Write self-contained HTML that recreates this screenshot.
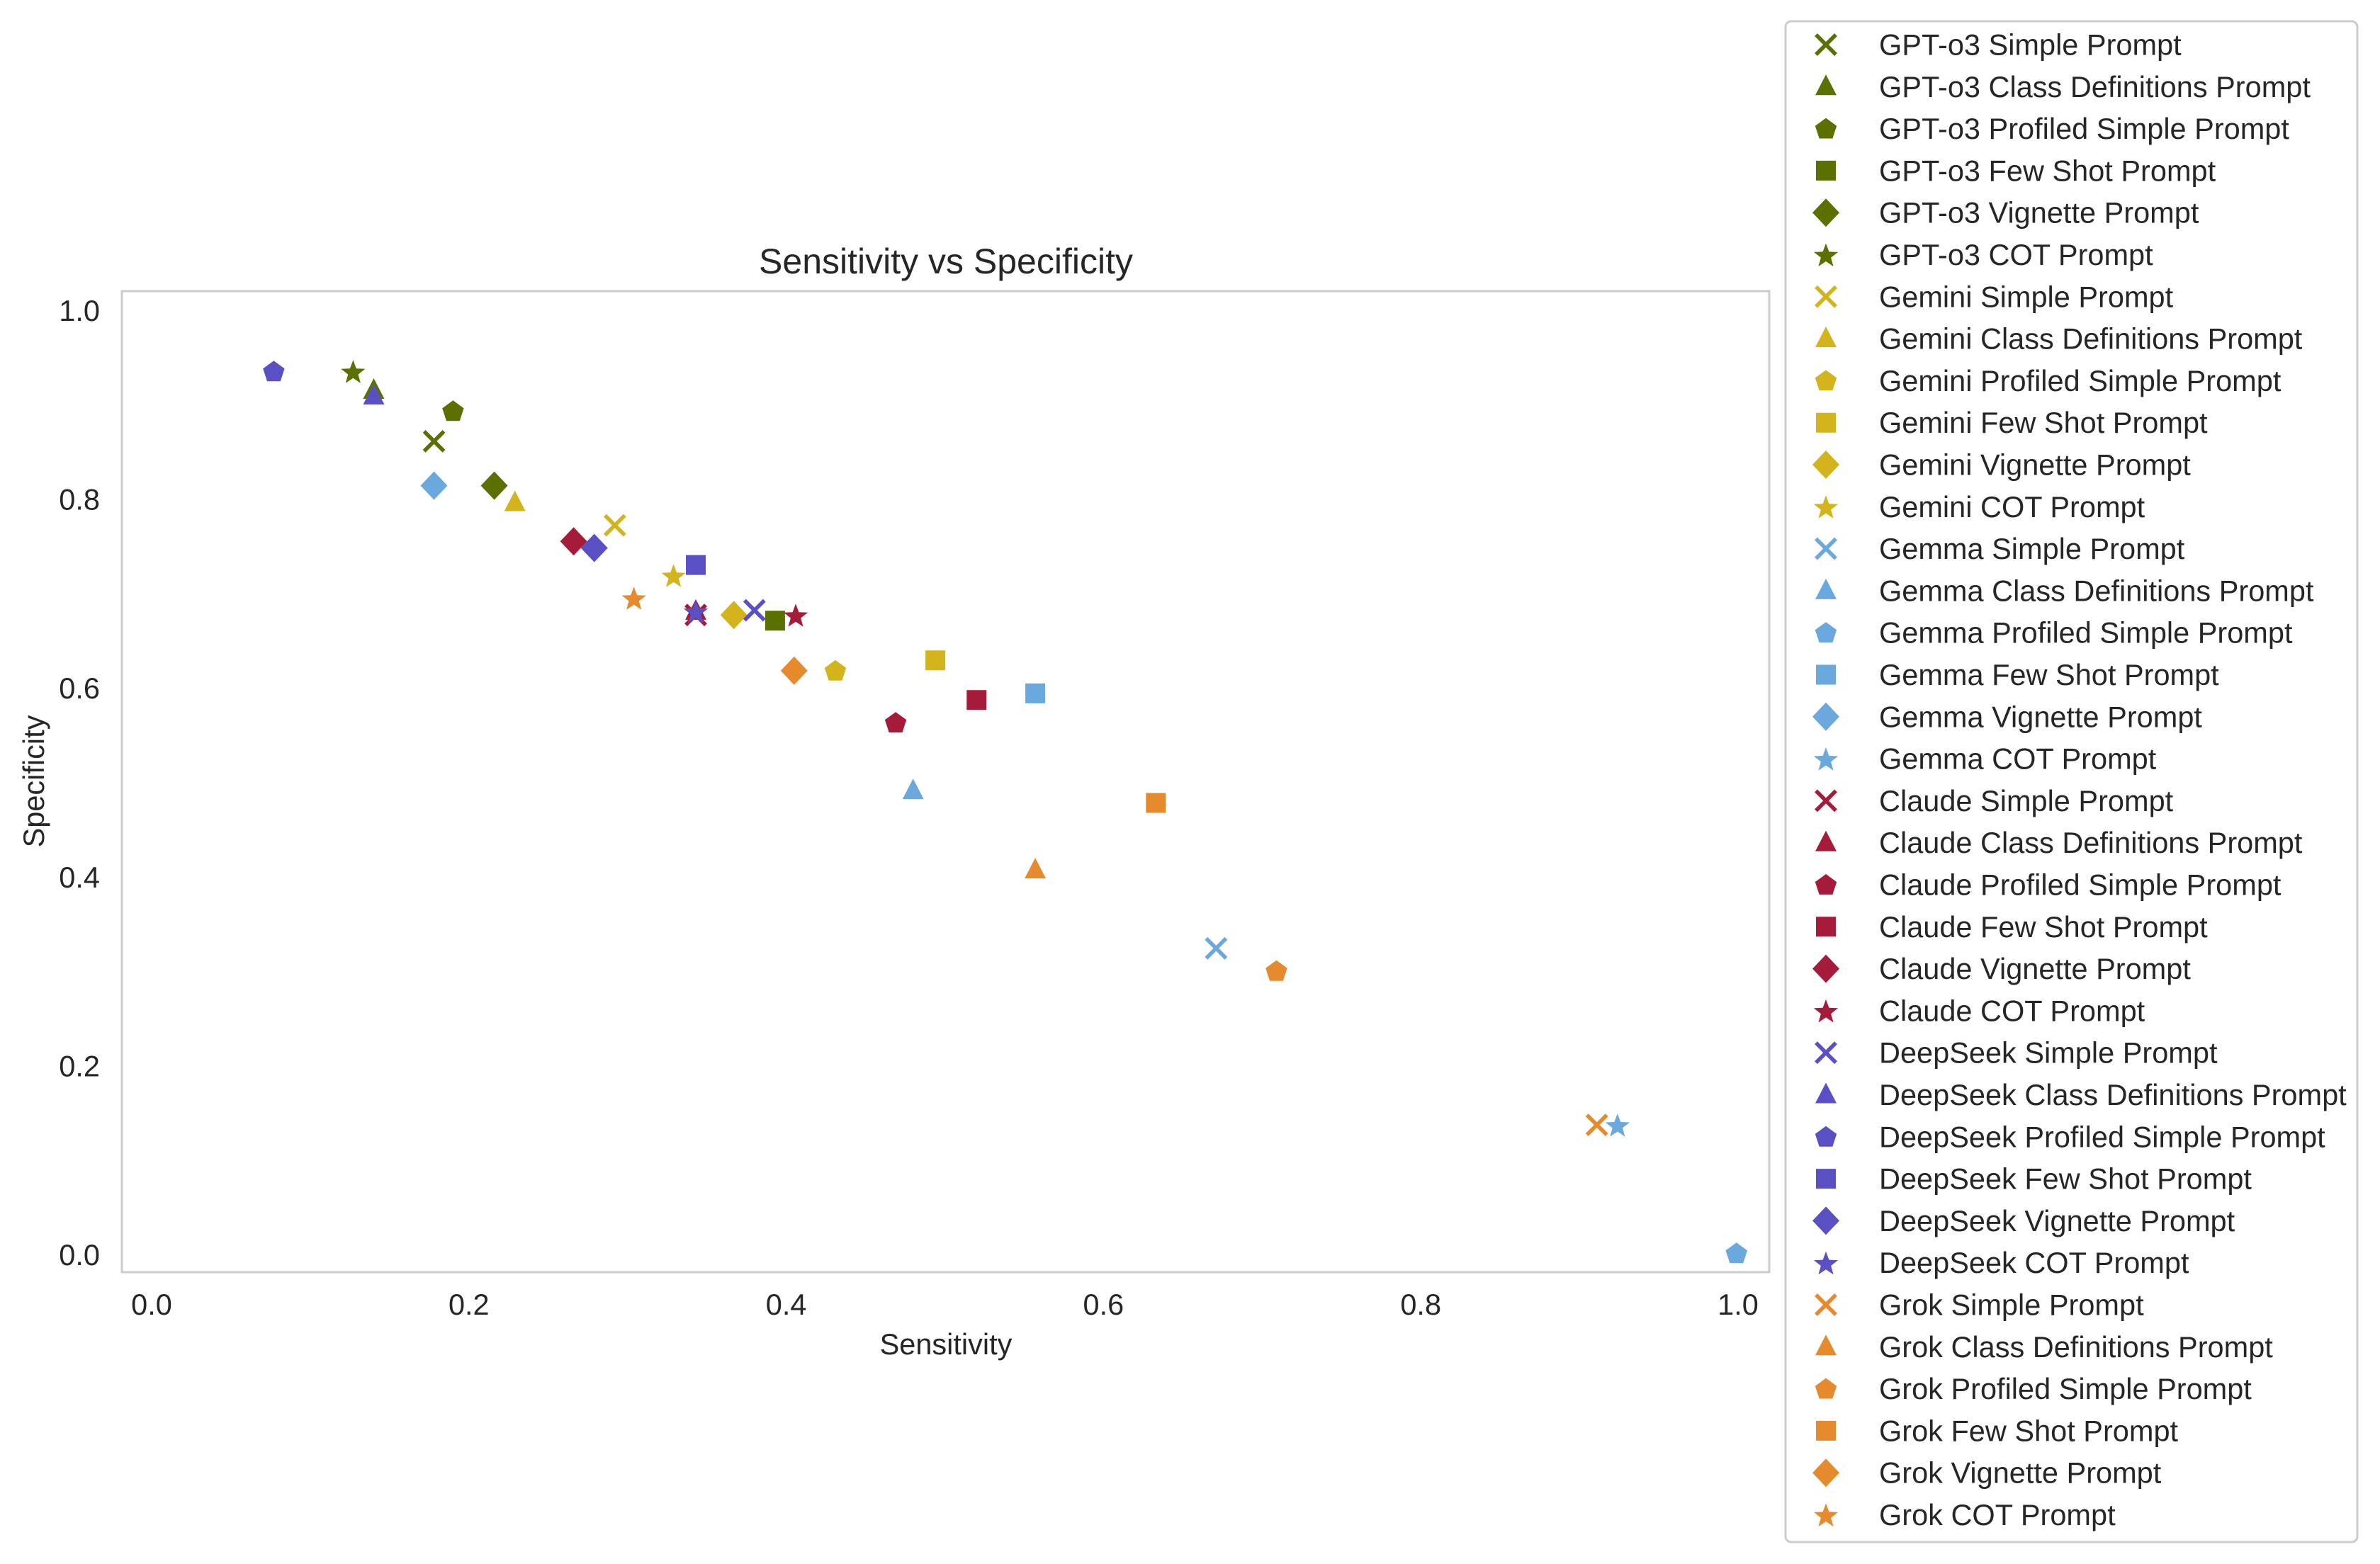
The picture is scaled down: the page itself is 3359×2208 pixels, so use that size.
<!DOCTYPE html>
<html><head><meta charset="utf-8"><style>
html,body{margin:0;padding:0;background:#fff}
svg{display:block}
text{font-family:"Liberation Sans",Arial,sans-serif;fill:#262626}
</style></head><body>
<svg id="chart" xmlns="http://www.w3.org/2000/svg" width="3359" height="2208" viewBox="0 0 3359 2208">
<rect x="0" y="0" width="3359" height="2208" fill="#fff"/>
<text x="1335" y="386" font-size="50" text-anchor="middle">Sensitivity vs Specificity</text>
<rect x="172" y="411" width="2325" height="1385" fill="none" stroke="#cccccc" stroke-width="3"/>
<text x="1335" y="1912" font-size="41.5" text-anchor="middle">Sensitivity</text>
<text x="0" y="0" font-size="41.5" text-anchor="middle" transform="translate(62,1103) rotate(-90)">Specificity</text>
<g id="ticks"></g>
<g id="marks"></g>
<rect x="2520" y="30" width="807" height="2147" rx="8" fill="#fff" stroke="#cccccc" stroke-width="3"/>
<g id="legend"></g>
</svg>
<script>
const models = ["GPT-o3","Gemini","Gemma","Claude","DeepSeek","Grok"];
const colors = ["#5a7000","#d4b41c","#6aa8dd","#a51c3a","#5b4fc4","#e68a2e"];
const prompts = ["Simple Prompt","Class Definitions Prompt","Profiled Simple Prompt","Few Shot Prompt","Vignette Prompt","COT Prompt"];
const shapes = ["x","triangle","pentagon","square","diamond","star"];
const sensGPT = [0.178,0.140,0.190,0.393,0.216,0.127];
const specGPT = [0.862,0.916,0.894,0.672,0.815,0.936];
const sensGemini = [0.292,0.229,0.431,0.494,0.367,0.329];
const specGemini = [0.773,0.797,0.619,0.630,0.678,0.720];
const sensGemma = [0.671,0.480,0.999,0.557,0.178,0.924];
const specGemma = [0.325,0.492,0.002,0.595,0.815,0.138];
const sensClaude = [0.343,0.343,0.469,0.520,0.266,0.406];
const specClaude = [0.678,0.682,0.564,0.588,0.756,0.678];
const sensDeepSeek = [0.380,0.140,0.077,0.343,0.279,0.343];
const specDeepSeek = [0.683,0.910,0.936,0.731,0.749,0.682];
const sensGrok = [0.911,0.557,0.709,0.633,0.405,0.304];
const specGrok = [0.138,0.408,0.301,0.479,0.619,0.696];
const xTicks = [0.0,0.2,0.4,0.6,0.8,1.0];
const yTicks = [0.0,0.2,0.4,0.6,0.8,1.0];
const sensAll = [sensGPT,sensGemini,sensGemma,sensClaude,sensDeepSeek,sensGrok];
const specAll = [specGPT,specGemini,specGemma,specClaude,specDeepSeek,specGrok];

const NS="http://www.w3.org/2000/svg";
const xS = v => 214 + v*(2453-214);
const yS = v => 1772 - v*(1772-439);

function shapeEl(shape,cx,cy,color){
  let el;
  const r=14;
  if(shape==="x"){
    el=document.createElementNS(NS,"path");
    el.setAttribute("d",`M${cx-r},${cy-r}L${cx+r},${cy+r}M${cx-r},${cy+r}L${cx+r},${cy-r}`);
    el.setAttribute("stroke",color);el.setAttribute("stroke-width","5.5");el.setAttribute("fill","none");
    return el;
  }
  el=document.createElementNS(NS,"polygon");
  let pts=[];
  if(shape==="triangle"){pts=[[0,-17],[15,12],[-15,12]];}
  else if(shape==="square"){pts=[[-14,-14],[14,-14],[14,14],[-14,14]];}
  else if(shape==="diamond"){pts=[[0,-20],[19,0],[0,20],[-19,0]];}
  else if(shape==="pentagon"){for(let i=0;i<5;i++){const a=-Math.PI/2+i*2*Math.PI/5;pts.push([16*Math.cos(a),16*Math.sin(a)+1]);}}
  else if(shape==="star"){for(let i=0;i<10;i++){const a=-Math.PI/2+i*Math.PI/5;const rr=i%2?7.5:18;pts.push([rr*Math.cos(a),rr*Math.sin(a)+2]);}}
  el.setAttribute("points",pts.map(p=>(cx+p[0]).toFixed(1)+","+(cy+p[1]).toFixed(1)).join(" "));
  el.setAttribute("fill",color);
  return el;
}

const tg=document.getElementById("ticks");
xTicks.forEach(t=>{
  const e=document.createElementNS(NS,"text");
  e.setAttribute("x",xS(t));e.setAttribute("y",1856);e.setAttribute("font-size","41.5");e.setAttribute("text-anchor","middle");
  e.textContent=t.toFixed(1);
  
  
  tg.appendChild(e);
});
yTicks.forEach(t=>{
  const e=document.createElementNS(NS,"text");
  e.setAttribute("x",141);e.setAttribute("y",yS(t)+14);e.setAttribute("font-size","41.5");e.setAttribute("text-anchor","end");
  e.textContent=t.toFixed(1);
  
  
  tg.appendChild(e);
});

const mg=document.getElementById("marks");
models.forEach((m,i)=>{
  prompts.forEach((p,j)=>{
    const el=shapeEl(shapes[j],xS(sensAll[i][j]),yS(specAll[i][j]),colors[i]);
    
    
    mg.appendChild(el);
  });
});

const lg=document.getElementById("legend");
let k=0;
models.forEach((m,i)=>{
  prompts.forEach((p,j)=>{
    const y=63+k*59.3;
    const g=document.createElementNS(NS,"g");
    
    
    const mk=shapeEl(shapes[j],2577,y,colors[i]);
    
    
    g.appendChild(mk);
    const t=document.createElementNS(NS,"text");
    t.setAttribute("x",2652);t.setAttribute("y",y+14.5);t.setAttribute("font-size","41.5");
    t.textContent=m+" "+p;
    
    
    g.appendChild(t);
    lg.appendChild(g);
    k++;
  });
});
</script>
</body></html>
